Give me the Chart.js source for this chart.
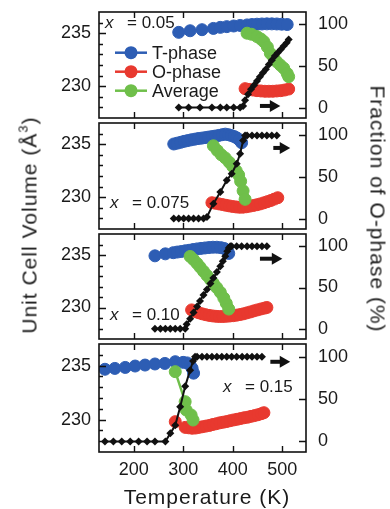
<!DOCTYPE html>
<html>
<head>
<meta charset="utf-8">
<script src="https://cdn.jsdelivr.net/npm/chart.js@4.4.1/dist/chart.umd.min.js"></script>
<style>
  html, body { margin: 0; padding: 0; background: #fff; }
  #fig { position: relative; width: 390px; height: 509px; overflow: hidden;
         font-family: "Liberation Sans", Arial, sans-serif; color: #1a1a1a; }
  #fig canvas { position: absolute; left: 0; }
  .axis-title { position: absolute; font-size: 21px; letter-spacing: 1px; white-space: nowrap;
                line-height: 1; transform: translate(-50%, -50%); }
  .axis-title.left { transform: translate(-50%, -50%) rotate(-90deg); }
  .axis-title.right { transform: translate(-50%, -50%) rotate(90deg); }
  .axis-title sup { font-size: 13px; line-height: 0; vertical-align: 9px; }
</style>
</head>
<body>
<div id="fig">
  <div class="axis-title left" style="left:29px; top:225px">Unit Cell Volume (Å<sup>3</sup>)</div>
  <div class="axis-title right" style="left:378px; top:209px">Fraction of O-phase (%)</div>
  <div class="axis-title" style="left:207px; top:496px">Temperature (K)</div>
</div>
<script>
// ============= Data =============
const compositions = ["0.05", "0.075", "0.10", "0.15"];
const seriesNames = ["T-phase", "O-phase", "Average"];
const tempTicks = [200, 300, 400, 500];
const volLabels = [230, 235];
const volTicks = [228, 229, 230, 231, 232, 233, 234, 235, 236];
const fracTicks = [0, 50, 100];

// T-phase volume (blue), one list per composition
const tPhaseTemp = [
  [291, 314, 338, 361, 375, 388, 402, 415, 429, 439, 449, 459, 469, 479, 489, 499, 510],
  [281, 288, 295, 302, 309, 316, 323, 330, 337, 344, 351, 358, 365, 372, 379, 385, 391, 397, 403, 408, 413, 418],
  [243, 264, 280, 288, 296, 304, 312, 320, 328, 336, 344, 352, 360, 368, 376, 383, 389, 392],
  [142, 162, 183, 203, 223, 243, 263, 284, 300, 308, 314, 318, 321]
];
const tPhaseVol = [
  [235.08, 235.23, 235.33, 235.45, 235.55, 235.62, 235.68, 235.73, 235.78, 235.82, 235.85, 235.87, 235.88, 235.88, 235.87, 235.85, 235.82],
  [235.02, 235.10, 235.18, 235.27, 235.34, 235.41, 235.47, 235.53, 235.57, 235.62, 235.67, 235.72, 235.77, 235.83, 235.90, 235.95, 235.90, 235.82, 235.72, 235.60, 235.42, 235.14],
  [234.92, 235.11, 235.22, 235.28, 235.33, 235.40, 235.45, 235.52, 235.58, 235.63, 235.67, 235.71, 235.74, 235.74, 235.70, 235.62, 235.45, 235.15],
  [234.66, 234.74, 234.83, 234.96, 235.05, 235.15, 235.20, 235.36, 235.30, 235.25, 235.05, 234.75, 234.30]
];

// O-phase volume (red)
const oPhaseTemp = [
  [425, 433, 441, 449, 457, 465, 473, 481, 489, 497, 505, 513],
  [358, 365, 372, 379, 386, 393, 400, 407, 414, 421, 428, 435, 442, 449, 456, 463, 470, 477, 484, 491],
  [317, 324, 331, 338, 345, 352, 359, 366, 373, 380, 387, 394, 401, 408, 415, 422, 429, 436, 443, 450, 457, 464, 469],
  [284, 304, 311, 318, 325, 332, 339, 346, 353, 360, 367, 374, 381, 388, 395, 402, 409, 416, 423, 430, 437, 444, 451, 458, 463]
];
const oPhaseVol = [
  [229.77, 229.70, 229.64, 229.58, 229.55, 229.52, 229.52, 229.52, 229.55, 229.58, 229.64, 229.73],
  [229.48, 229.43, 229.37, 229.31, 229.24, 229.18, 229.12, 229.08, 229.05, 229.06, 229.10, 229.16, 229.22, 229.29, 229.37, 229.47, 229.58, 229.69, 229.82, 229.95],
  [229.77, 229.62, 229.50, 229.40, 229.32, 229.25, 229.20, 229.16, 229.14, 229.14, 229.16, 229.19, 229.22, 229.27, 229.33, 229.40, 229.49, 229.58, 229.68, 229.77, 229.86, 229.94, 230.00],
  [229.81, 229.28, 229.24, 229.20, 229.22, 229.28, 229.34, 229.40, 229.46, 229.55, 229.62, 229.70, 229.76, 229.82, 229.90, 229.97, 230.03, 230.10, 230.17, 230.22, 230.30, 230.37, 230.45, 230.55, 230.64]
];

// Average volume (green)
const avgTemp = [
  [429, 438, 449, 457, 463, 470, 476, 483, 489, 496, 503, 510, 513],
  [361, 369, 377, 385, 393, 400, 407, 412, 416, 421, 425],
  [314, 321, 328, 334, 341, 348, 355, 361, 368, 375, 382, 387, 392],
  [284, 304, 306, 316, 320]
];
const avgVol = [
  [235.00, 234.90, 234.68, 234.45, 234.20, 233.70, 233.10, 232.70, 232.30, 232.00, 231.70, 231.20, 230.90],
  [234.85, 234.40, 234.00, 233.70, 233.30, 232.90, 232.50, 232.10, 231.50, 230.60, 229.80],
  [234.86, 234.55, 234.20, 233.85, 233.45, 233.05, 232.66, 232.30, 231.88, 231.45, 230.90, 230.40, 229.85],
  [234.44, 231.66, 230.89, 230.43, 229.96]
];

// Fraction of O-phase (black diamonds, right axis)
const fracTemp = [
  [291, 311, 334, 358, 375, 388, 402, 415, 421, 425, 431, 437, 443, 449, 455, 461, 467, 473, 479, 485, 491, 497, 503, 509, 513],
  [281, 291, 301, 311, 321, 331, 341, 348, 361, 375, 388, 398, 408, 415, 421, 425, 429, 439, 449, 459, 469, 479, 489],
  [243, 254, 264, 274, 284, 294, 304, 307, 314, 321, 328, 334, 341, 348, 355, 361, 368, 375, 380, 385, 389, 392, 395, 398, 408, 418, 429, 439, 449, 459, 469],
  [142, 159, 176, 193, 210, 227, 243, 264, 274, 284, 294, 304, 314, 320, 324, 328, 338, 348, 358, 368, 378, 388, 398, 408, 419, 429, 439, 449, 459]
];
const fracVal = [
  [0, 0, 0, 0, 0, 0, 0, 0, 2, 9, 16, 22, 27, 32, 37, 42, 46, 52, 57, 62, 66, 70, 74, 78, 82],
  [0, 0, 0, 0, 0, 0, 0, 2, 18, 32, 46, 54, 66, 78, 94, 100, 100, 100, 100, 100, 100, 100, 100],
  [0, 0, 0, 0, 0, 0, 0, 5.5, 12, 19.7, 27, 33.7, 41, 47.7, 55, 61.7, 69, 75.7, 82, 88, 94, 98, 100, 100, 100, 100, 100, 100, 100, 100, 100],
  [0, 0, 0, 0, 0, 0, 0, 0, 9.5, 19, 41, 65, 84, 95, 100, 100, 100, 100, 100, 100, 100, 100, 100, 100, 100, 100, 100, 100, 100]
];

// arrows pointing to the right axis
const arrowTemp = [[455, 482], [482, 502], [455, 486], [476, 502]];
const arrowFrac = [[2, 2], [85, 85], [85, 85], [94, 94]];

// ============= Layout =============
const panelTop = [12, 123, 234, 344];
const panelHeight = [106, 106, 105, 108];
const PAD = 12;
const X_AXIS_H = 57;
const compPos = [[6, 11.5], [11, 80], [11, 81], [124, 43]];   // offset from plot top-left

const colors = ["#2d5db4", "#e8392f", "#6fbf4a"];
const FONT = '"Liberation Sans", Arial, sans-serif';

Chart.defaults.font.family = FONT;
Chart.defaults.font.size = 18;
Chart.defaults.color = "#1a1a1a";

const pts = (xs, ys) => xs.map((x, i) => ({ x, y: ys[i] }));
const noPad = s => { s.paddingTop = 0; s.paddingBottom = 0; s.paddingLeft = 0; s.paddingRight = 0; };

// frame, inward ticks, composition label and legend
const panelDeco = {
  id: "panelDeco",
  afterDatasetsDraw(chart, args, opts) {
    const { ctx, chartArea: a, scales } = chart;
    ctx.save();
    ctx.strokeStyle = "#111";
    ctx.lineWidth = 1.6;
    ctx.strokeRect(a.left, a.top, a.right - a.left, a.bottom - a.top);
    ctx.lineWidth = 1.4;
    ctx.beginPath();
    tempTicks.forEach(t => {
      const x = Math.round(scales.x.getPixelForValue(t)) + 0.5;
      ctx.moveTo(x, a.bottom); ctx.lineTo(x, a.bottom - 6);
      ctx.moveTo(x, a.top); ctx.lineTo(x, a.top + 6);
    });
    volTicks.forEach(v => {
      const y = Math.round(scales.yV.getPixelForValue(v)) + 0.5;
      ctx.moveTo(a.left, y); ctx.lineTo(a.left + (v % 5 === 0 ? 7 : 4), y);
    });
    fracTicks.forEach(f => {
      const y = Math.round(scales.yF.getPixelForValue(f)) + 0.5;
      ctx.moveTo(a.right, y); ctx.lineTo(a.right - 7, y);
    });
    ctx.stroke();

    // "x = 0.05"
    const [dx, dy] = opts.pos;
    ctx.fillStyle = "#1a1a1a";
    ctx.textBaseline = "middle";
    ctx.textAlign = "left";
    ctx.font = "italic 17px " + FONT;
    ctx.fillText("x", a.left + dx, a.top + dy);
    ctx.font = "17px " + FONT;
    ctx.fillText("= " + opts.comp, a.left + dx + 22, a.top + dy);

    if (opts.legend) {
      ctx.font = "18px " + FONT;
      seriesNames.forEach((name, i) => {
        const y = a.top + 40.7 + i * 19;
        ctx.strokeStyle = colors[i];
        ctx.fillStyle = colors[i];
        ctx.lineWidth = 2.5;
        ctx.beginPath();
        ctx.moveTo(a.left + 16, y); ctx.lineTo(a.left + 48, y);
        ctx.stroke();
        ctx.beginPath();
        ctx.arc(a.left + 32, y, 6.5, 0, Math.PI * 2);
        ctx.fill();
        ctx.fillStyle = "#1a1a1a";
        ctx.fillText(name, a.left + 53, y + 1);
      });
    }
    ctx.restore();
  }
};

const fig = document.getElementById("fig");

compositions.forEach((comp, i) => {
  const last = i === compositions.length - 1;
  const canvas = document.createElement("canvas");
  const h = last ? 509 - (panelTop[i] - PAD) : panelHeight[i] + 2 * PAD;
  canvas.width = 390;
  canvas.height = h;
  canvas.style.top = (panelTop[i] - PAD) + "px";
  fig.insertBefore(canvas, fig.firstChild);

  const circles = (k, temps, vols) => ({
    label: seriesNames[k],
    data: pts(temps[i], vols[i]),
    yAxisID: "yV",
    borderColor: colors[k],
    backgroundColor: colors[k],
    borderWidth: 2.5,
    pointRadius: 6,
    pointBorderWidth: 1,
    pointBackgroundColor: colors[k],
    pointBorderColor: colors[k],
    order: 3 - k
  });

  new Chart(canvas, {
    type: "line",
    data: {
      datasets: [
        circles(0, tPhaseTemp, tPhaseVol),
        circles(1, oPhaseTemp, oPhaseVol),
        circles(2, avgTemp, avgVol),
        {
          label: "Fraction",
          data: pts(fracTemp[i], fracVal[i]),
          yAxisID: "yF",
          borderColor: "#111",
          backgroundColor: "#111",
          borderWidth: 2,
          pointStyle: "rectRot",
          pointRadius: 4,
          pointBorderWidth: 0,
          order: 0
        },
        {
          label: "arrow",
          data: pts(arrowTemp[i], arrowFrac[i]),
          yAxisID: "yF",
          borderColor: "#111",
          backgroundColor: "#111",
          borderWidth: 4,
          pointStyle: "triangle",
          pointRadius: [0, 7],
          pointRotation: 90,
          pointBorderWidth: 0,
          order: 0
        }
      ]
    },
    options: {
      responsive: false,
      animation: false,
      layout: { padding: { top: PAD, bottom: last ? 0 : PAD, left: 0, right: 0 } },
      plugins: {
        legend: { display: false },
        tooltip: { enabled: false },
        panelDeco: { comp, pos: compPos[i], legend: i === 0 }
      },
      scales: {
        x: {
          type: "linear", min: 130, max: 548,
          display: last,
          grid: { display: false, drawTicks: false },
          border: { display: false },
          ticks: { padding: 7, autoSkip: false, maxRotation: 0 },
          afterBuildTicks: s => { s.ticks = tempTicks.map(v => ({ value: v })); },
          afterFit: s => { s.height = last ? X_AXIS_H : 0; noPad(s); }
        },
        yV: {
          position: "left", min: 227, max: 237,
          grid: { display: false, drawTicks: false },
          border: { display: false },
          ticks: { padding: 8, autoSkip: false },
          afterBuildTicks: s => { s.ticks = volLabels.map(v => ({ value: v })); },
          afterFit: s => { s.width = 99; noPad(s); }
        },
        yF: {
          position: "right", min: -12.5, max: 115,
          grid: { display: false, drawTicks: false },
          border: { display: false },
          ticks: { padding: 12, autoSkip: false },
          afterBuildTicks: s => { s.ticks = fracTicks.map(v => ({ value: v })); },
          afterFit: s => { s.width = 390 - 306; noPad(s); }
        }
      }
    },
    plugins: [panelDeco]
  });
});
</script>
</body>
</html>
